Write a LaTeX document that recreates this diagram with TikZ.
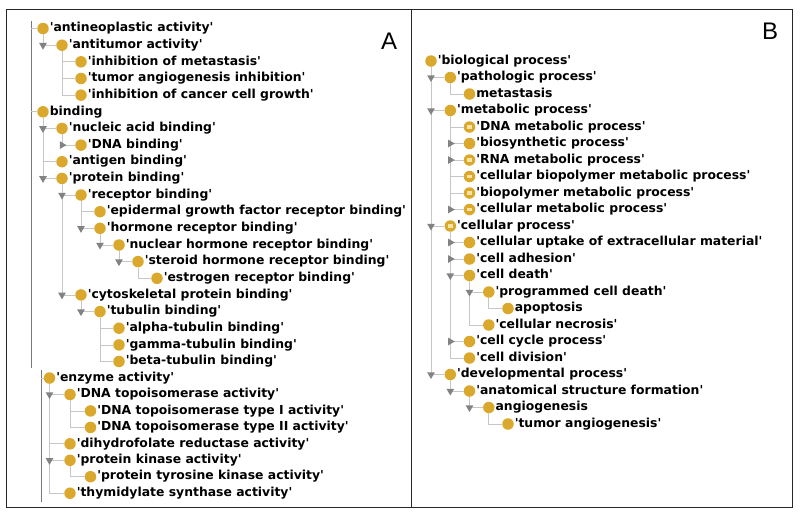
\documentclass[tikz,border=0pt]{standalone}
\usepackage{fontspec}
\setmainfont{DejaVu Sans}[Ligatures=TeXOff]
\newfontfamily\panelfont{Liberation Sans}
\usetikzlibrary{shapes.geometric,positioning}
\definecolor{classgold}{RGB}{218,168,45}
\definecolor{defcream}{RGB}{245,228,165}
\definecolor{handlegray}{RGB}{130,130,130}
\definecolor{treegray}{RGB}{198,198,198}
\definecolor{rootgray}{RGB}{120,120,120}

\begin{document}
\begin{tikzpicture}[x=1pt, y=-1pt,
		cls/.style={circle, fill=classgold, minimum size=11.5pt, inner sep=0pt},
		defcls/.style={cls, path picture={\fill[defcream]
			([xshift=-2.4pt,yshift=-1.8pt]path picture bounding box.center) rectangle
			([xshift=2.4pt,yshift=1.8pt]path picture bounding box.center);}},
		lbl/.style={font=\bfseries\fontsize{12.4}{14}\selectfont, inner xsep=0.6pt, inner ysep=0pt,
			text height=9pt, text depth=2.5pt},
		openmark/.style={regular polygon, regular polygon sides=3, fill=handlegray,
			minimum size=9pt, inner sep=0pt, shape border rotate=180},
		shutmark/.style={openmark, shape border rotate=-90},
		branch/.style={draw=treegray, line width=0.8pt},
		rootline/.style={draw=rootgray, line width=0.9pt},
		panel/.style={draw=black!85, line width=1.4pt, anchor=north west, inner sep=0pt},
		tag/.style={font=\panelfont\fontsize{24}{24}\selectfont}
	]
	\useasboundingbox (0,0) rectangle (800,515);
	% frames
	\node[panel, minimum width=405pt, minimum height=498pt] (panelA) at (6,9) {};
	\node[panel, minimum width=381pt, minimum height=498pt] (panelB) at (411,9) {};
	\node[tag] (tagA) at (389,41) {A};
	\node[tag] (tagB) at (770,31) {B};

	% A: upper list
	\coordinate (topA) at (31,21);
	\coordinate (endA) at (31,368);
	\draw[rootline] (topA) -- (endA);
	\node[cls, label={[lbl]right:'antineoplastic activity'}] (a0) at (43,28.5) {};
	\node[cls, label={[lbl]right:'antitumor activity'}] (a1) at (62,45.2) {};
	\node[cls, label={[lbl]right:'inhibition of metastasis'}] (a2) at (81,61.8) {};
	\node[cls, label={[lbl]right:'tumor angiogenesis inhibition'}] (a3) at (81,78.5) {};
	\node[cls, label={[lbl]right:'inhibition of cancer cell growth'}] (a4) at (81,95.1) {};
	\node[cls, label={[lbl]right:binding}] (a5) at (43,111.8) {};
	\node[cls, label={[lbl]right:'nucleic acid binding'}] (a6) at (62,128.4) {};
	\node[cls, label={[lbl]right:'DNA binding'}] (a7) at (81,145.1) {};
	\node[cls, label={[lbl]right:'antigen binding'}] (a8) at (62,161.7) {};
	\node[cls, label={[lbl]right:'protein binding'}] (a9) at (62,178.4) {};
	\node[cls, label={[lbl]right:'receptor binding'}] (a10) at (81,195) {};
	\node[cls, label={[lbl]right:'epidermal growth factor receptor binding'}] (a11) at (100,211.7) {};
	\node[cls, label={[lbl]right:'hormone receptor binding'}] (a12) at (100,228.3) {};
	\node[cls, label={[lbl]right:'nuclear hormone receptor binding'}] (a13) at (119,245) {};
	\node[cls, label={[lbl]right:'steroid hormone receptor binding'}] (a14) at (138,261.6) {};
	\node[cls, label={[lbl]right:'estrogen receptor binding'}] (a15) at (157,278.3) {};
	\node[cls, label={[lbl]right:'cytoskeletal protein binding'}] (a16) at (81,294.9) {};
	\node[cls, label={[lbl]right:'tubulin binding'}] (a17) at (100,311.6) {};
	\node[cls, label={[lbl]right:'alpha-tubulin binding'}] (a18) at (119,328.2) {};
	\node[cls, label={[lbl]right:'gamma-tubulin binding'}] (a19) at (119,344.9) {};
	\node[cls, label={[lbl]right:'beta-tubulin binding'}] (a20) at (119,361.5) {};
	\draw[branch] (topA |- a0) -- (a0);
	\draw[branch] (topA |- a5) -- (a5);
	\draw[branch] (a0) |- (a1);
	\draw[branch] (a1) |- (a2);
	\draw[branch] (a1) |- (a3);
	\draw[branch] (a1) |- (a4);
	\draw[branch] (a5) |- (a6);
	\draw[branch] (a5) |- (a8);
	\draw[branch] (a5) |- (a9);
	\draw[branch] (a6) |- (a7);
	\draw[branch] (a9) |- (a10);
	\draw[branch] (a9) |- (a16);
	\draw[branch] (a10) |- (a11);
	\draw[branch] (a10) |- (a12);
	\draw[branch] (a12) |- (a13);
	\draw[branch] (a13) |- (a14);
	\draw[branch] (a14) |- (a15);
	\draw[branch] (a16) |- (a17);
	\draw[branch] (a17) |- (a18);
	\draw[branch] (a17) |- (a19);
	\draw[branch] (a17) |- (a20);
	\node[openmark] (ha1) at (a0 |- a1) {};
	\node[openmark] (ha6) at (a5 |- a6) {};
	\node[shutmark] (ha7) at (a6 |- a7) {};
	\node[openmark] (ha9) at (a5 |- a9) {};
	\node[openmark] (ha10) at (a9 |- a10) {};
	\node[openmark] (ha12) at (a10 |- a12) {};
	\node[openmark] (ha13) at (a12 |- a13) {};
	\node[openmark] (ha14) at (a13 |- a14) {};
	\node[openmark] (ha16) at (a9 |- a16) {};
	\node[openmark] (ha17) at (a16 |- a17) {};

	% A: lower list
	\coordinate (topE) at (41,370);
	\coordinate (endE) at (41,502);
	\draw[rootline] (topE) -- (endE);
	\node[cls, label={[lbl]right:'enzyme activity'}] (e0) at (49.5,378) {};
	\node[cls, label={[lbl]right:'DNA topoisomerase activity'}] (e1) at (70,394.5) {};
	\node[cls, label={[lbl]right:'DNA topoisomerase type I activity'}] (e2) at (90.5,410.9) {};
	\node[cls, label={[lbl]right:'DNA topoisomerase type II activity'}] (e3) at (90.5,427.4) {};
	\node[cls, label={[lbl]right:'dihydrofolate reductase activity'}] (e4) at (70,443.8) {};
	\node[cls, label={[lbl]right:'protein kinase activity'}] (e5) at (70,460.3) {};
	\node[cls, label={[lbl]right:'protein tyrosine kinase activity'}] (e6) at (90.5,476.7) {};
	\node[cls, label={[lbl]right:'thymidylate synthase activity'}] (e7) at (70,493.2) {};
	\draw[branch] (topE |- e0) -- (e0);
	\draw[branch] (e0) |- (e1);
	\draw[branch] (e0) |- (e4);
	\draw[branch] (e0) |- (e5);
	\draw[branch] (e0) |- (e7);
	\draw[branch] (e1) |- (e2);
	\draw[branch] (e1) |- (e3);
	\draw[branch] (e5) |- (e6);
	\node[openmark] (he1) at (e0 |- e1) {};
	\node[openmark] (he5) at (e0 |- e5) {};

	% B
	\node[cls, label={[lbl]right:'biological process'}] (b0) at (431,61) {};
	\node[cls, label={[lbl]right:'pathologic process'}] (b1) at (450.3,77.5) {};
	\node[cls, label={[lbl]right:metastasis}] (b2) at (469.5,94) {};
	\node[cls, label={[lbl]right:'metabolic process'}] (b3) at (450.3,110.5) {};
	\node[defcls, label={[lbl]right:'DNA metabolic process'}] (b4) at (469.5,127) {};
	\node[cls, label={[lbl]right:'biosynthetic process'}] (b5) at (469.5,143.5) {};
	\node[defcls, label={[lbl]right:'RNA metabolic process'}] (b6) at (469.5,160) {};
	\node[defcls, label={[lbl]right:'cellular biopolymer metabolic process'}] (b7) at (469.5,176.5) {};
	\node[defcls, label={[lbl]right:'biopolymer metabolic process'}] (b8) at (469.5,193) {};
	\node[defcls, label={[lbl]right:'cellular metabolic process'}] (b9) at (469.5,209.5) {};
	\node[defcls, label={[lbl]right:'cellular process'}] (b10) at (450.3,226) {};
	\node[cls, label={[lbl]right:'cellular uptake of extracellular material'}] (b11) at (469.5,242.5) {};
	\node[cls, label={[lbl]right:'cell adhesion'}] (b12) at (469.5,259) {};
	\node[cls, label={[lbl]right:'cell death'}] (b13) at (469.5,275.5) {};
	\node[cls, label={[lbl]right:'programmed cell death'}] (b14) at (488.8,292) {};
	\node[cls, label={[lbl]right:apoptosis}] (b15) at (508,308.5) {};
	\node[cls, label={[lbl]right:'cellular necrosis'}] (b16) at (488.8,325) {};
	\node[cls, label={[lbl]right:'cell cycle process'}] (b17) at (469.5,341.5) {};
	\node[cls, label={[lbl]right:'cell division'}] (b18) at (469.5,358) {};
	\node[cls, label={[lbl]right:'developmental process'}] (b19) at (450.3,374.5) {};
	\node[cls, label={[lbl]right:'anatomical structure formation'}] (b20) at (469.5,391) {};
	\node[cls, label={[lbl]right:angiogenesis}] (b21) at (488.8,407.5) {};
	\node[cls, label={[lbl]right:'tumor angiogenesis'}] (b22) at (508,424) {};
	\draw[branch] (b0) |- (b1);
	\draw[branch] (b0) |- (b3);
	\draw[branch] (b0) |- (b10);
	\draw[branch] (b0) |- (b19);
	\draw[branch] (b1) |- (b2);
	\draw[branch] (b3) |- (b4);
	\draw[branch] (b3) |- (b5);
	\draw[branch] (b3) |- (b6);
	\draw[branch] (b3) |- (b7);
	\draw[branch] (b3) |- (b8);
	\draw[branch] (b3) |- (b9);
	\draw[branch] (b10) |- (b11);
	\draw[branch] (b10) |- (b12);
	\draw[branch] (b10) |- (b13);
	\draw[branch] (b10) |- (b17);
	\draw[branch] (b10) |- (b18);
	\draw[branch] (b13) |- (b14);
	\draw[branch] (b13) |- (b16);
	\draw[branch] (b14) |- (b15);
	\draw[branch] (b19) |- (b20);
	\draw[branch] (b20) |- (b21);
	\draw[branch] (b21) |- (b22);
	\node[openmark] (hb1) at (b0 |- b1) {};
	\node[openmark] (hb3) at (b0 |- b3) {};
	\node[shutmark] (hb5) at (b3 |- b5) {};
	\node[shutmark] (hb6) at (b3 |- b6) {};
	\node[shutmark] (hb9) at (b3 |- b9) {};
	\node[openmark] (hb10) at (b0 |- b10) {};
	\node[shutmark] (hb11) at (b10 |- b11) {};
	\node[shutmark] (hb12) at (b10 |- b12) {};
	\node[openmark] (hb13) at (b10 |- b13) {};
	\node[openmark] (hb14) at (b13 |- b14) {};
	\node[shutmark] (hb17) at (b10 |- b17) {};
	\node[openmark] (hb19) at (b0 |- b19) {};
	\node[openmark] (hb20) at (b19 |- b20) {};
	\node[openmark] (hb21) at (b20 |- b21) {};
\end{tikzpicture}
\end{document}
